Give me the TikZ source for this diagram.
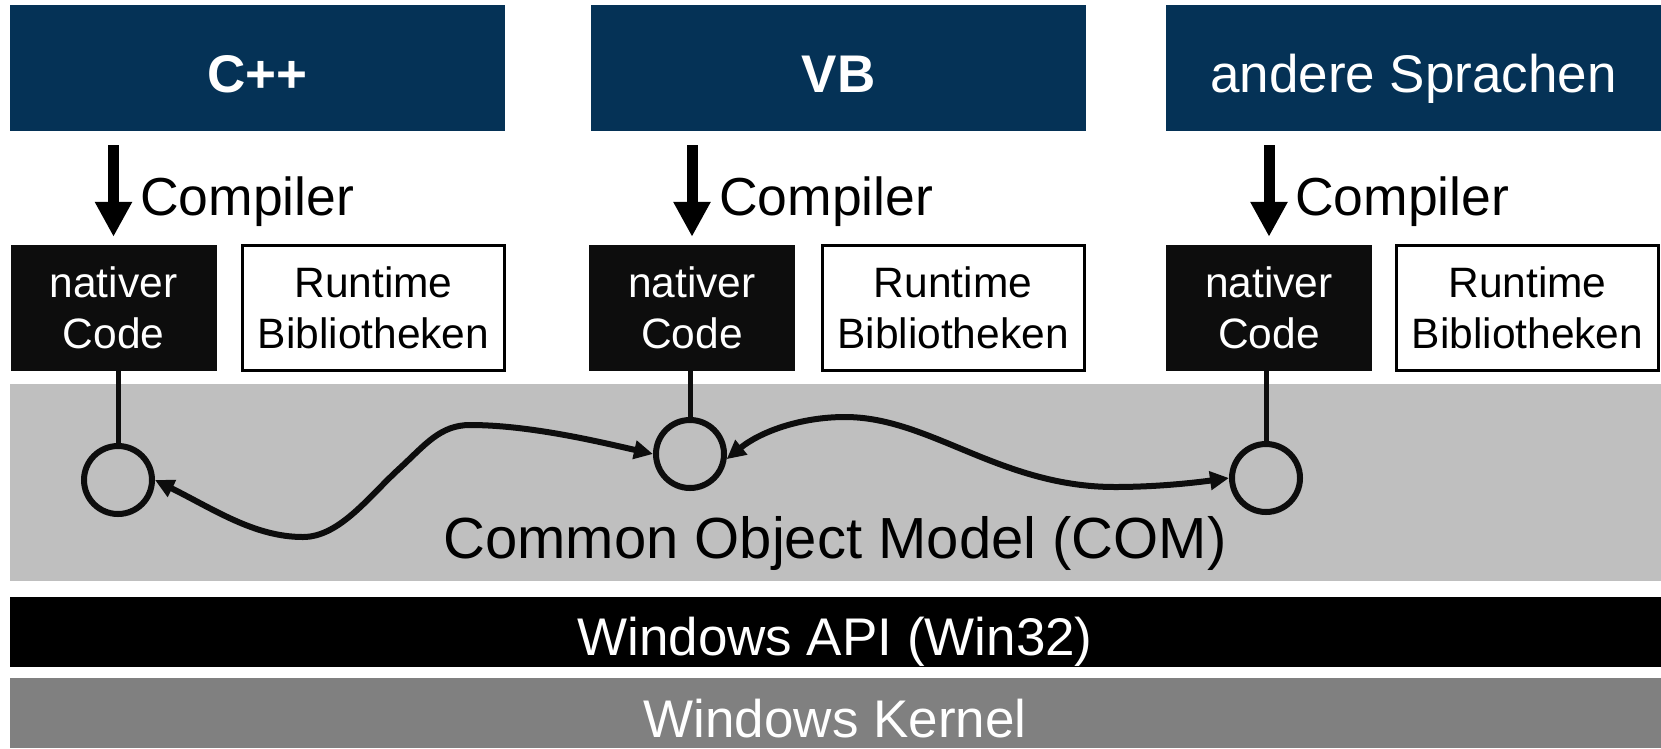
\documentclass[tikz,border=0pt]{standalone}
\usepackage{fontspec}
\setmainfont{Liberation Sans}
\usetikzlibrary{arrows.meta}
\definecolor{navy}{RGB}{5,50,86}
\definecolor{comgray}{RGB}{191,191,191}
\definecolor{kerngray}{RGB}{128,128,128}
\definecolor{natblack}{RGB}{13,13,13}
\begin{document}
\begin{tikzpicture}[x=1pt,y=-1pt,
  lang/.style={fill=navy,text=white,minimum width=495pt,minimum height=126pt,inner sep=0pt,
    text height=48pt,text depth=0pt,font=\fontsize{53}{64}\selectfont},
  natbox/.style={fill=natblack,text=white,minimum width=206pt,minimum height=126pt,inner sep=0pt,
    align=center,font=\fontsize{42.5}{51}\selectfont},
  rtbox/.style={draw=black,line width=3pt,fill=white,minimum width=262pt,minimum height=125pt,
    inner sep=0pt,align=center,font=\fontsize{42.5}{51}\selectfont},
  complabel/.style={anchor=base west,inner sep=0pt,font=\fontsize{53.5}{62}\selectfont},
  comparrow/.style={draw=black,line width=11pt,shorten <=14pt,shorten >=8pt,
    -{Triangle[length=35pt,width=35pt]}},
  band/.style={minimum width=1651pt,inner sep=0pt,anchor=north west},
  bandlabel/.style={anchor=base,inner sep=0pt,font=\fontsize{53}{64}\selectfont},
  port/.style={circle,draw=natblack,line width=6pt,minimum size=68pt,inner sep=0pt},
  link/.style={draw=natblack,line width=5pt},
  comlink/.style={draw=natblack,line width=6pt,
    {Triangle[length=19pt,width=18pt]}-{Triangle[length=19pt,width=18pt]}}
]
\useasboundingbox (0,0) rectangle (1661,748);

% language boxes
\node[lang] (cpp) at (257.5,68) {\bfseries C++};
\node[lang] (vb) at (838.5,68) {\bfseries VB};
\node[lang] (other) at (1413.5,68) {andere Sprachen};

% native code and runtime boxes
\node[natbox] (nat1) at (113.5,308) {nativer\\Code};
\node[natbox] (nat2) at (692,308) {nativer\\Code};
\node[natbox] (nat3) at (1269,308) {nativer\\Code};
\node[rtbox] (rt1) at (373.5,308) {Runtime\\Bibliotheken};
\node[rtbox] (rt2) at (953,308) {Runtime\\Bibliotheken};
\node[rtbox] (rt3) at (1527.5,308) {Runtime\\Bibliotheken};

% compiler arrows
\draw[comparrow] (cpp.south -| nat1.north) -- (nat1.north);
\draw[comparrow] (vb.south -| nat2.north) -- (nat2.north);
\draw[comparrow] (other.south -| nat3.north) -- (nat3.north);
\node[complabel] (cl1) at (140,215) {Compiler};
\node[complabel] (cl2) at (719,215) {Compiler};
\node[complabel] (cl3) at (1295,215) {Compiler};

% layers
\node[band,fill=comgray,minimum height=197pt] (comband) at (10,384) {};
\node[band,fill=black,minimum height=70pt] (apiband) at (10,597) {};
\node[band,fill=kerngray,minimum height=70pt] (kernband) at (10,678) {};
\node[anchor=base,inner sep=0pt,font=\fontsize{58}{68}\selectfont] (comlabel) at (835,558) {Common Object Model (COM)};
\node[bandlabel,text=white] (apilabel) at (835,655) {Windows API (Win32)};
\node[bandlabel,text=white] (kernlabel) at (835,737) {Windows Kernel};

% COM ports
\node[port] (c1) at (118,480) {};
\node[port] (c2) at (690,454) {};
\node[port] (c3) at (1266,478) {};
\draw[link] (nat1.south -| c1.north) -- (c1.north);
\draw[link] (nat2.south -| c2.north) -- (c2.north);
\draw[link] (nat3.south -| c3.north) -- (c3.north);

% COM connections
\draw[comlink] (c1.east) .. controls (215,510) and (255,537) .. (303,537)
  .. controls (340,537) and (370,495) .. (400,468)
  .. controls (425,445) and (440,425) .. (470,425)
  .. controls (530,425) and (600,442) .. (c2.west);
\draw[comlink] (c2.-8) .. controls (760,432) and (800,417) .. (845,417)
  .. controls (930,417) and (1000,487) .. (1115,487)
  .. controls (1160,487) and (1200,482) .. (c3.west);
\end{tikzpicture}
\end{document}
